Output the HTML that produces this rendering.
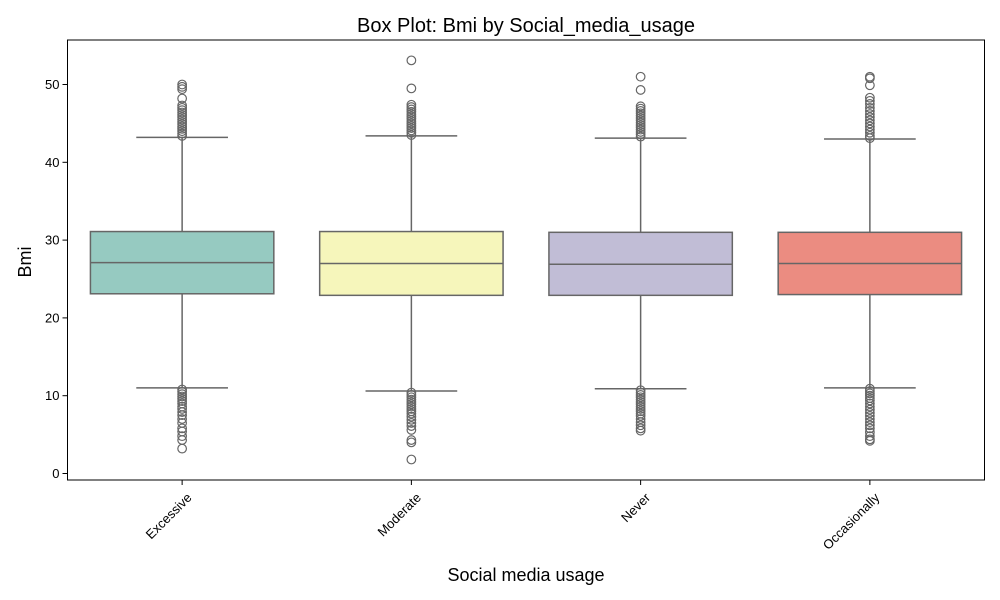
<!DOCTYPE html>
<html><head><meta charset="utf-8"><style>body{margin:0;background:#fff}svg{display:block;font-family:"Liberation Sans",sans-serif}</style></head>
<body>
<svg id="chart" width="1000" height="600" viewBox="0 0 1000 600" xmlns="http://www.w3.org/2000/svg">
<text x="526" y="32" font-size="20" text-anchor="middle">Box Plot: Bmi by Social_media_usage</text>
<text x="526" y="581" font-size="18" text-anchor="middle">Social media usage</text>
<text x="31" y="262" font-size="18" text-anchor="middle" transform="rotate(-90 31 262)">Bmi</text>
<g id="boxes"></g>
<g id="axes"></g>
</svg>
<script>
const categories = ["Excessive","Moderate","Never","Occasionally"];
const q1 = [23.1, 22.9, 22.9, 23.0];
const medians = [27.1, 27.0, 26.9, 27.0];
const q3 = [31.1, 31.1, 31.0, 31.0];
const whiskerLow = [11.0, 10.6, 10.9, 11.0];
const whiskerHigh = [43.2, 43.4, 43.1, 43.0];
const outliersHigh = [
  [50.0,49.7,49.4,48.2,47.3,47.0,46.7,46.4,46.1,45.8,45.5,45.2,44.9,44.6,44.3,44.0,43.7,43.4],
  [53.1,49.5,47.4,47.1,46.8,46.5,46.2,45.9,45.6,45.3,45.0,44.7,44.4,44.1,43.8,43.5],
  [51.0,49.3,47.2,46.9,46.6,46.3,46.0,45.7,45.4,45.1,44.8,44.5,44.2,43.9,43.6,43.3],
  [51.0,50.8,49.9,48.3,47.9,47.5,47.0,46.6,46.2,45.8,45.4,45.0,44.6,44.2,43.8,43.4,43.1]
];
const outliersLow = [
  [10.8,10.5,10.2,9.9,9.6,9.3,9.0,8.6,8.3,7.9,7.5,7.0,6.5,5.8,5.4,4.8,4.3,3.2],
  [10.4,10.1,9.8,9.5,9.2,8.9,8.6,8.3,8.0,7.7,7.3,6.9,6.5,6.1,5.6,4.3,4.0,1.8],
  [10.7,10.4,10.1,9.8,9.5,9.2,8.9,8.6,8.3,8.0,7.7,7.4,7.0,6.6,6.2,5.8,5.5],
  [10.9,10.6,10.3,10.0,9.7,9.4,9.0,8.6,8.2,7.8,7.4,7.0,6.6,6.2,5.8,5.3,4.8,4.4,4.2]
];
const yTicks = [0,10,20,30,40,50];
const colors = ["#96cac1","#f6f6bb","#c1bdd6","#eb8c81"];

const L=67.5,R=984.5,T=40,B=480;
const band=(R-L)/categories.length;
const xc=i=>L+band*(i+0.5);
const y=v=>473.5-v*7.78;
const NS="http://www.w3.org/2000/svg";
function mk(tag,attrs,parent){const e=document.createElementNS(NS,tag);for(const k in attrs)e.setAttribute(k,attrs[k]);parent.appendChild(e);return e;}
const gb=document.getElementById('boxes'), ga=document.getElementById('axes');
const bw=band*0.8, cw=band*0.4, line="#666666";
categories.forEach((c,i)=>{
  const x=xc(i);
  const g=mk('g',{},gb);
  
  
  const w1=mk('line',{x1:x,x2:x,y1:y(q1[i]),y2:y(whiskerLow[i]),stroke:line,'stroke-width':1.5},g);
  
  
  const w2=mk('line',{x1:x,x2:x,y1:y(q3[i]),y2:y(whiskerHigh[i]),stroke:line,'stroke-width':1.5},g);
  
  
  [whiskerLow[i],whiskerHigh[i]].forEach(v=>{
    const cap=mk('line',{x1:x-cw/2,x2:x+cw/2,y1:y(v),y2:y(v),stroke:line,'stroke-width':1.5},g);
    
    
  });
  const r=mk('rect',{x:x-bw/2,y:y(q3[i]),width:bw,height:y(q1[i])-y(q3[i]),fill:colors[i],stroke:line,'stroke-width':1.5},g);
  
  
  const m=mk('line',{x1:x-bw/2,x2:x+bw/2,y1:y(medians[i]),y2:y(medians[i]),stroke:line,'stroke-width':1.5},g);
  
  
  outliersHigh[i].concat(outliersLow[i]).forEach(v=>{
    const p=mk('circle',{cx:x,cy:y(v),r:4.3,fill:'none',stroke:line,'stroke-width':1.2},g);
    
    
  });
  const t=mk('line',{x1:x,x2:x,y1:B,y2:B+5,stroke:'#000','stroke-width':1},ga);
  
  
  const tx=x+4, ty=B+12;
  const lab=mk('text',{x:tx,y:ty,'font-size':13,'text-anchor':'end',transform:`rotate(-45 ${tx} ${ty})`,dy:'0.7em'},ga);
  lab.textContent=c;
  
  
});
yTicks.forEach(v=>{
  const t=mk('line',{x1:L-5,x2:L,y1:y(v),y2:y(v),stroke:'#000','stroke-width':1},ga);
  
  
  const lab=mk('text',{x:L-8,y:y(v)+4.5,'font-size':13,'text-anchor':'end'},ga);
  lab.textContent=v;
  
  
});
const frame=mk('rect',{x:L,y:T,width:R-L,height:B-T,fill:'none',stroke:'#000','stroke-width':1},ga);


</script>
</body></html>
